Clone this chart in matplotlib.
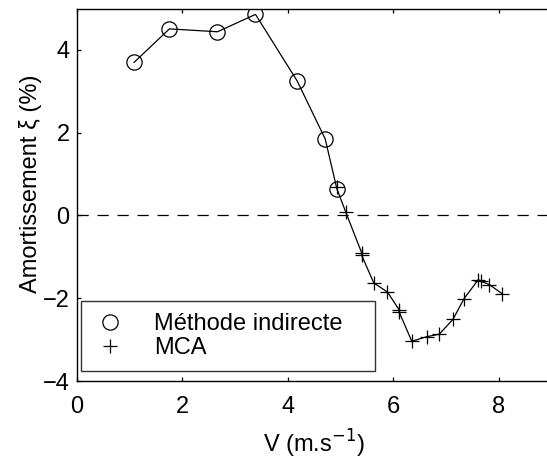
import numpy as np
import matplotlib
matplotlib.use('Agg')
import matplotlib.pyplot as plt

plt.rcParams['font.family'] = ['Liberation Sans', 'DejaVu Sans']
plt.rcParams['font.size'] = 17

# Méthode indirecte (circles)
v_ind = [1.09, 1.76, 2.67, 3.39, 4.18, 4.71, 4.93]
xi_ind = [3.70, 4.51, 4.44, 4.86, 3.25, 1.85, 0.65]

# MCA (plus signs)
v_mca = [4.94, 5.10, 5.40, 5.40, 5.63, 5.89, 6.11, 6.11, 6.35, 6.63, 6.87,
         7.13, 7.34, 7.61, 7.66, 7.82, 8.06]
xi_mca = [0.68, 0.08, -0.90, -0.96, -1.63, -1.85, -2.28, -2.33, -3.04, -2.93,
          -2.87, -2.51, -2.01, -1.55, -1.59, -1.67, -1.89]

xticks = [0, 2, 4, 6, 8]
yticks = [-4, -2, 0, 2, 4]

fig = plt.figure(figsize=(5.47, 4.61), dpi=100)
ax = fig.add_axes([76.5 / 547, 80 / 461, 475.2 / 547, 372.4 / 461])

# trait continu qui relie tous les points
v_all = np.array(v_ind + v_mca[1:])
xi_all = np.array(xi_ind + xi_mca[1:])
ax.plot(v_all, xi_all, color='black', lw=0.9)

ax.axhline(0, color='black', lw=0.9, linestyle=(0, (9, 7)))

ax.plot(v_ind, xi_ind, 'o', mfc='none', mec='black', ms=11, mew=0.9,
        label='Méthode indirecte')
ax.plot(v_mca, xi_mca, '+', color='black', ms=10, mew=0.9, label='MCA')

ax.set_xlim(0, 9)
ax.set_ylim(-4, 5)
ax.set_xticks(xticks)
ax.set_yticks(yticks)
ax.tick_params(direction='in', top=True, right=True, length=3, width=0.9)
ax.tick_params(axis='x', pad=11)
ax.tick_params(axis='y', pad=5)
for s in ax.spines.values():
    s.set_linewidth(1.0)

ax.set_xlabel('V (m.s$^{-1}$)', labelpad=7)
ax.set_ylabel('Amortissement ξ (%)')
ax.yaxis.set_label_coords(-0.072, 0.53)

leg = ax.legend(loc='lower left', bbox_to_anchor=(0.009, 0.027, 0.619, 0.18),
                mode='expand', fancybox=False, edgecolor='black',
                borderpad=0.5, handlelength=1.5, handletextpad=1.1,
                labelspacing=0.1, borderaxespad=0, fontsize=17)
leg.get_frame().set_linewidth(1.0)

plt.savefig('out.png', dpi=100)
